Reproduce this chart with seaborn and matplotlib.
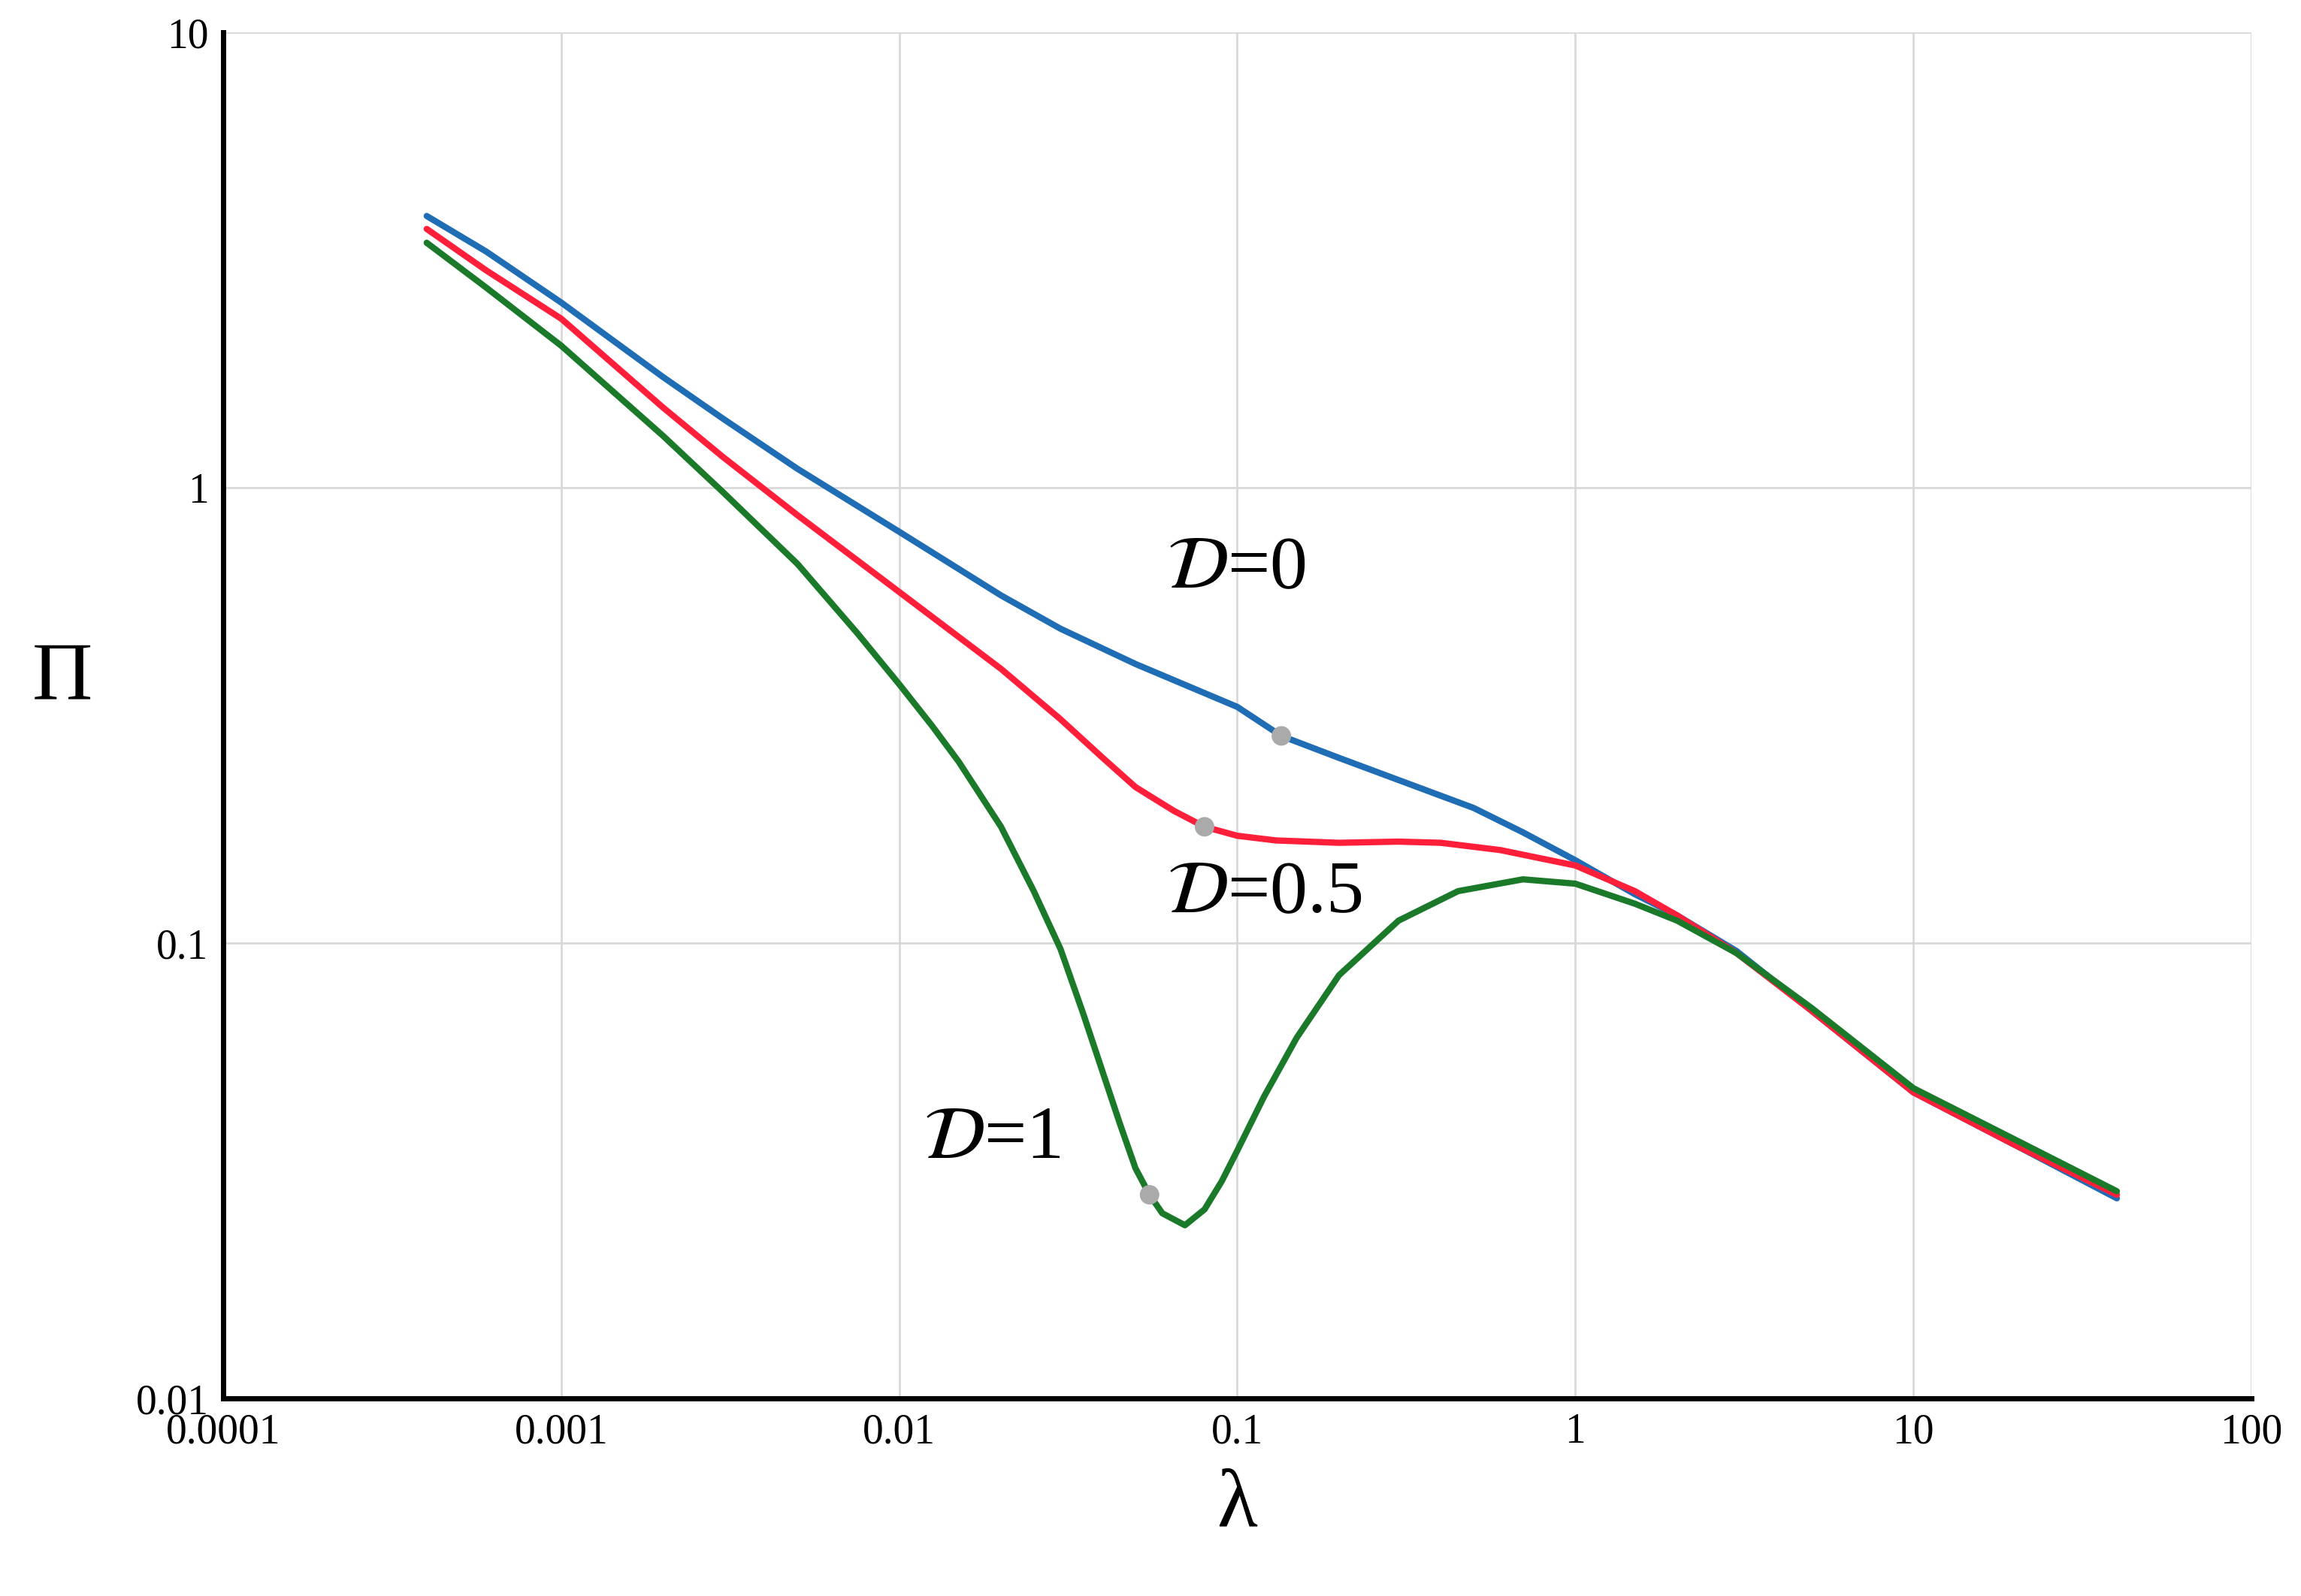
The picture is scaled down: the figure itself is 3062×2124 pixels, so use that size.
import matplotlib
matplotlib.use("Agg")
import matplotlib.pyplot as plt
import seaborn as sns

lam_blue = [4e-4, 6e-4, 0.001, 0.002, 0.003, 0.005, 0.01, 0.02, 0.03, 0.05, 0.1, 0.135, 0.2, 0.3, 0.5, 0.7, 1, 1.5, 2, 3, 5, 10, 20, 40]
pi_blue  = [3.95, 3.3, 2.55, 1.75, 1.42, 1.1, 0.80, 0.58, 0.49, 0.41, 0.33, 0.285, 0.255, 0.228, 0.198, 0.175, 0.152, 0.128, 0.115, 0.096, 0.071, 0.047, 0.036, 0.0275]
lam_red = [4e-4, 6e-4, 0.001, 0.002, 0.003, 0.005, 0.01, 0.015, 0.02, 0.03, 0.04, 0.05, 0.065, 0.08, 0.1, 0.13, 0.2, 0.3, 0.4, 0.6, 1, 1.5, 2, 3, 5, 10, 20, 40]
pi_red  = [3.7, 3.0, 2.35, 1.5, 1.17, 0.87, 0.59, 0.47, 0.40, 0.31, 0.255, 0.22, 0.195, 0.18, 0.172, 0.168, 0.166, 0.167, 0.166, 0.160, 0.148, 0.13, 0.115, 0.095, 0.071, 0.047, 0.036, 0.028]
lam_green = [4e-4, 6e-4, 0.001, 0.002, 0.003, 0.005, 0.0075, 0.01, 0.0125, 0.015, 0.02, 0.025, 0.03, 0.035, 0.04, 0.045, 0.05, 0.055, 0.06, 0.07, 0.08, 0.09, 0.1, 0.12, 0.15, 0.2, 0.3, 0.45, 0.7, 1, 1.5, 2, 3, 5, 10, 20, 40]
pi_green  = [3.45, 2.75, 2.05, 1.3, 0.98, 0.68, 0.48, 0.37, 0.30, 0.25, 0.18, 0.13, 0.097, 0.07, 0.052, 0.04, 0.032, 0.028, 0.0255, 0.024, 0.026, 0.03, 0.035, 0.046, 0.062, 0.085, 0.112, 0.13, 0.138, 0.135, 0.122, 0.112, 0.095, 0.072, 0.048, 0.037, 0.0285]
dots_lam = [0.135, 0.08, 0.055]
dots_pi = [0.285, 0.18, 0.028]
labels = [r"$\mathcal{D}$=0", r"$\mathcal{D}$=0.5", r"$\mathcal{D}$=1"]
label_x = [0.062, 0.062, 0.0118]
label_y = [0.66, 0.128, 0.037]

sns.set_theme(style="whitegrid")
plt.rcParams['font.family'] = ['Liberation Serif', 'DejaVu Serif']
plt.rcParams['mathtext.fontset'] = 'stix'
fig = plt.figure(figsize=(30.62, 21.24), dpi=100)
ax = fig.add_axes([297/3062, 1-1861/2124, (2996-297)/3062, (1861-43)/2124])
for lx, ly, c in [(lam_blue, pi_blue, "#1f6db5"), (lam_red, pi_red, "#ff1f3a"), (lam_green, pi_green, "#1a7a2a")]:
    sns.lineplot(x=lx, y=ly, ax=ax, color=c, linewidth=6, sort=False, estimator=None)
sns.scatterplot(x=dots_lam, y=dots_pi, ax=ax, color="#aaaaaa", s=350, edgecolor="none", zorder=5)
ax.set_xscale("log"); ax.set_yscale("log")
ax.set_xlim(1e-4, 100); ax.set_ylim(0.01, 10)
ax.set_xticks([1e-4, 1e-3, 1e-2, 0.1, 1, 10, 100])
ax.set_xticklabels(["0.0001", "0.001", "0.01", "0.1", "1", "10", "100"])
ax.set_yticks([0.01, 0.1, 1, 10])
ax.set_yticklabels(["0.01", "0.1", "1", "10"])
ax.minorticks_off()
ax.tick_params(labelsize=40, length=0, pad=14, colors="black")
ax.grid(True, color="#d9d9d9", linewidth=2)
for s in ["top", "right"]:
    ax.spines[s].set_visible(False)
for s in ["left", "bottom"]:
    ax.spines[s].set_color("black"); ax.spines[s].set_linewidth(5)
ax.set_xlabel("λ", fontsize=80, labelpad=16, color="black")
ax.set_ylabel("Π", fontsize=80, rotation=0, labelpad=70, color="black")
for t, x, y in zip(labels, label_x, label_y):
    ax.text(x, y, t, fontsize=72, ha="left", va="center", color="black")
fig.savefig("out.png", dpi=100)
